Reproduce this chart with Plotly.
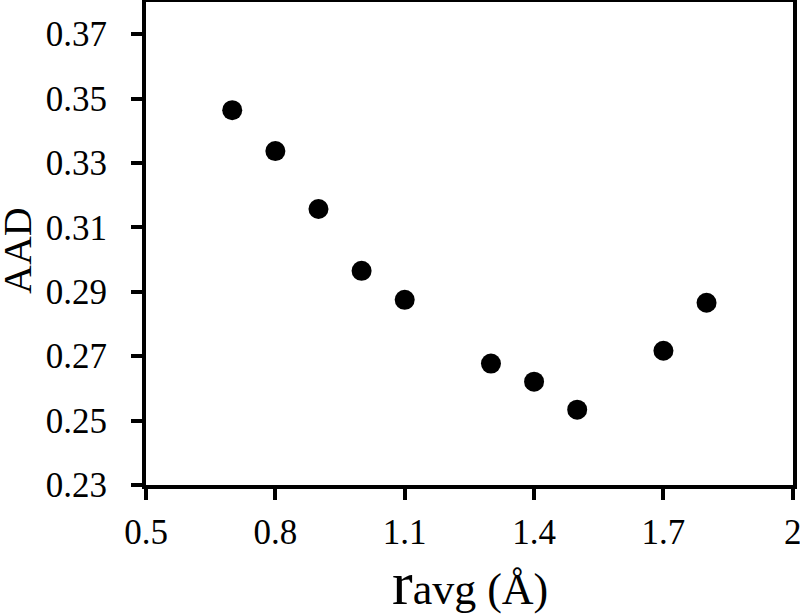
import plotly.graph_objects as go

r_avg = [0.7, 0.8, 0.9, 1.0, 1.1, 1.3, 1.4, 1.5, 1.7, 1.8]
aad = [0.3464, 0.3337, 0.3157, 0.2965, 0.2875, 0.2677, 0.2621, 0.2534, 0.2717, 0.2866]

x_ticks = [0.5, 0.8, 1.1, 1.4, 1.7, 2.0]
x_tick_labels = ["0.5", "0.8", "1.1", "1.4", "1.7", "2"]
y_ticks = [0.23, 0.25, 0.27, 0.29, 0.31, 0.33, 0.35, 0.37]
y_tick_labels = ["0.23", "0.25", "0.27", "0.29", "0.31", "0.33", "0.35", "0.37"]

FONT = "Liberation Serif"

fig = go.Figure()
fig.add_trace(go.Scatter(
    x=r_avg, y=aad, mode="markers",
    marker=dict(color="black", size=20, line=dict(width=0)),
    showlegend=False, cliponaxis=False,
))

axis_common = dict(
    showgrid=False, zeroline=False, showline=True, linecolor="black", linewidth=4,
    mirror=True, ticks="outside", ticklen=11, tickwidth=4, tickcolor="black",
    tickfont=dict(family=FONT, size=35, color="black"),
    ticklabeloverflow="allow", automargin=False,
)

fig.update_xaxes(
    range=[0.5, 2.0005], tickmode="array", tickvals=x_ticks, ticktext=x_tick_labels,
    ticklabelstandoff=2,
    **axis_common,
)
fig.update_yaxes(
    range=[0.23, 0.38], tickmode="array", tickvals=y_ticks, ticktext=y_tick_labels,
    ticklabelstandoff=17,
    **axis_common,
)

fig.add_annotation(
    text="<span style='font-size:62px'>r</span>avg (Å)",
    xref="paper", yref="paper", x=0.5, y=-0.276, xanchor="center", yanchor="bottom",
    showarrow=False, borderpad=0, font=dict(family=FONT, size=44, color="black"),
)
fig.add_annotation(
    text="AAD", textangle=-90,
    xref="paper", yref="paper", x=-0.1994, y=0.4865, xanchor="center", yanchor="middle",
    showarrow=False, borderpad=0, font=dict(family=FONT, size=40, color="black"),
)

fig.update_layout(
    width=800, height=615,
    margin=dict(l=146, r=7, t=2, b=130, pad=0),
    plot_bgcolor="white", paper_bgcolor="white",
)

fig.write_html("out.html")
